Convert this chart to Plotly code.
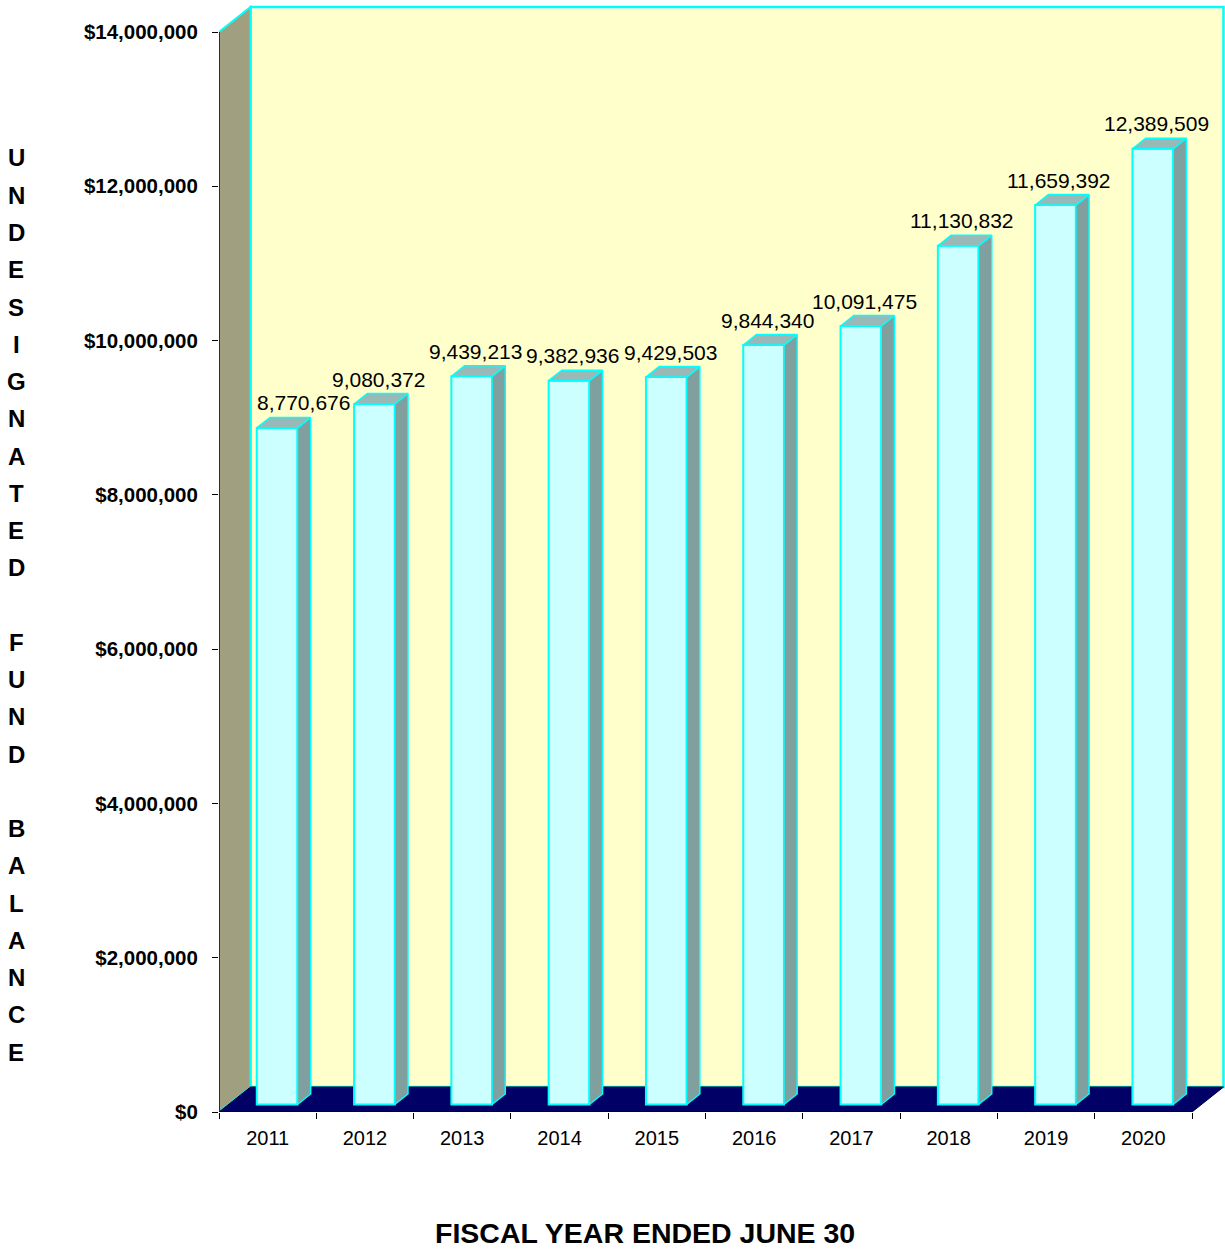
import plotly.graph_objects as go

# ---------------- data ----------------
years = ["2011", "2012", "2013", "2014", "2015", "2016", "2017", "2018", "2019", "2020"]
balances = [8770676, 9080372, 9439213, 9382936, 9429503, 9844340, 10091475, 11130832, 11659392, 12389509]
y_tick_values = [0, 2000000, 4000000, 6000000, 8000000, 10000000, 12000000, 14000000]
y_tick_labels = ["$" + f"{v:,}" for v in y_tick_values]
y_title = "UNDESIGNATED FUND BALANCE"
x_title = "FISCAL YEAR ENDED JUNE 30"

# ---------------- layout geometry ----------------
W, H = 1225, 1249
ML, MB, MT, MR = 219, 137, 5, 0
plot_w = W - ML - MR
plot_h = H - MB - MT
PX_CAT = 97.3                # pixels per category
YMAX = 14000000
PX_VAL = 1080.0 / YMAX       # pixels per value unit
DX = 31.5 / PX_CAT           # 3-D depth offset, x (category units)
DY = 25.0 / PX_VAL           # 3-D depth offset, y (value units)
F1, F2 = 0.30, 0.72          # bar front / back depth fraction
BW = 0.418                   # bar width (category units)
n = len(years)
x_range = [-0.5, -0.5 + plot_w / PX_CAT]
y_range = [0, plot_h / PX_VAL]

WALL_BACK = "#FFFFCC"
WALL_SIDE = "#A0A080"
FLOOR = "#000066"
EDGE = "#00FFFF"
BAR_FRONT = "#CCFFFF"
BAR_SIDE = "#80A0A0"
BAR_TOP = "#99B8B8"
FONT = "Liberation Sans, Arial, sans-serif"

fig = go.Figure()

# ---------------- walls & floor ----------------
def path(pts):
    return "M " + " L ".join(f"{x},{y}" for x, y in pts) + " Z"

shapes = []
shapes.append(dict(type="rect", xref="x", yref="y", layer="below",
                   x0=-0.5 + DX, x1=n - 0.5 + DX, y0=DY, y1=YMAX + DY,
                   fillcolor=WALL_BACK, line=dict(color=EDGE, width=2.5)))
shapes.append(dict(type="path", xref="x", yref="y", layer="below",
                   path=path([(-0.5, 0), (-0.5 + DX, DY), (-0.5 + DX, YMAX + DY), (-0.5, YMAX)]),
                   fillcolor=WALL_SIDE, line=dict(color=EDGE, width=2)))
shapes.append(dict(type="path", xref="x", yref="y", layer="below",
                   path=path([(-0.5, 0), (n - 0.5, 0), (n - 0.5 + DX, DY), (-0.5 + DX, DY)]),
                   fillcolor=FLOOR, line=dict(color="#000033", width=1)))
shapes.append(dict(type="line", xref="x", yref="y", layer="above",
                   x0=-0.5, x1=-0.5, y0=0, y1=YMAX, line=dict(color="black", width=1.5)))
shapes.append(dict(type="line", xref="x", yref="y", layer="above",
                   x0=-0.5, x1=n - 0.5, y0=0, y1=0, line=dict(color="black", width=1.5)))

# ---------------- bars ----------------
front_x = [i + F1 * DX for i in range(n)]
fig.add_trace(go.Bar(x=front_x, y=balances, base=F1 * DY, width=BW,
                     marker=dict(color=BAR_FRONT, line=dict(color=EDGE, width=2)),
                     hoverinfo="skip", showlegend=False))

ddx = (F2 - F1) * DX
ddy = (F2 - F1) * DY
side_x, side_y, top_x, top_y = [], [], [], []
for i, v in enumerate(balances):
    L = front_x[i] - BW / 2
    R = front_x[i] + BW / 2
    yb = F1 * DY
    yt = v + F1 * DY
    side_x += [R, R + ddx, R + ddx, R, R, None]
    side_y += [yb, yb + ddy, yt + ddy, yt, yb, None]
    top_x += [L, R, R + ddx, L + ddx, L, None]
    top_y += [yt, yt, yt + ddy, yt + ddy, yt, None]

fig.add_trace(go.Scatter(x=side_x, y=side_y, mode="lines", fill="toself",
                         fillcolor=BAR_SIDE, line=dict(color=EDGE, width=1.5),
                         hoverinfo="skip", showlegend=False))
fig.add_trace(go.Scatter(x=top_x, y=top_y, mode="lines", fill="toself",
                         fillcolor=BAR_TOP, line=dict(color=EDGE, width=1.5),
                         hoverinfo="skip", showlegend=False))

# ---------------- annotations ----------------
annotations = []
min_label_x = -0.5 + DX + 0.54
for i, v in enumerate(balances):
    lx = max(front_x[i] + 0.04, min_label_x)
    annotations.append(dict(x=lx, y=v + F2 * DY, xref="x", yref="y",
                            text=f"{v:,}", showarrow=False, yanchor="bottom",
                            xanchor="center", yshift=1,
                            font=dict(family=FONT, size=21, color="black")))

lines = []
for wi, word in enumerate(y_title.split(" ")):
    if wi:
        lines.append("")
    lines.extend(list(word))
for k, ch in enumerate(lines):
    if not ch:
        continue
    ypix = 158 + k * 37.25
    annotations.append(dict(x=(16 - ML) / plot_w, y=(H - MB - ypix) / plot_h,
                            xref="paper", yref="paper", text=ch, showarrow=False,
                            xanchor="center", yanchor="middle",
                            font=dict(family=FONT, size=24, color="black", weight="bold")))

annotations.append(dict(x=(645 - ML) / plot_w, y=(H - MB - 1233) / plot_h,
                        xref="paper", yref="paper", text=x_title, showarrow=False,
                        xanchor="center", yanchor="middle",
                        font=dict(family=FONT, size=28.5, color="black", weight="bold")))

fig.update_layout(
    width=W, height=H,
    margin=dict(l=ML, r=MR, t=MT, b=MB, pad=0),
    paper_bgcolor="white", plot_bgcolor="white",
    shapes=shapes, annotations=annotations, showlegend=False,
    xaxis=dict(range=x_range, showgrid=False, zeroline=False, showline=False,
               tickmode="array", tickvals=list(range(n)), ticktext=years,
               ticks="", tickfont=dict(family=FONT, size=20, color="black"),
               ticklabelstandoff=12,
               minor=dict(tickmode="array", tickvals=[i - 0.5 for i in range(n + 1)],
                          ticks="outside", ticklen=6, tickcolor="black", tickwidth=1)),
    yaxis=dict(range=y_range, showgrid=False, zeroline=False, showline=False,
               tickmode="array", tickvals=y_tick_values, ticktext=y_tick_labels,
               ticks="outside", ticklen=6, tickcolor="black", tickwidth=1,
               ticklabelstandoff=10,
               tickfont=dict(family=FONT, size=20.5, color="black", weight="bold")),
)

fig.write_html("out.html")
